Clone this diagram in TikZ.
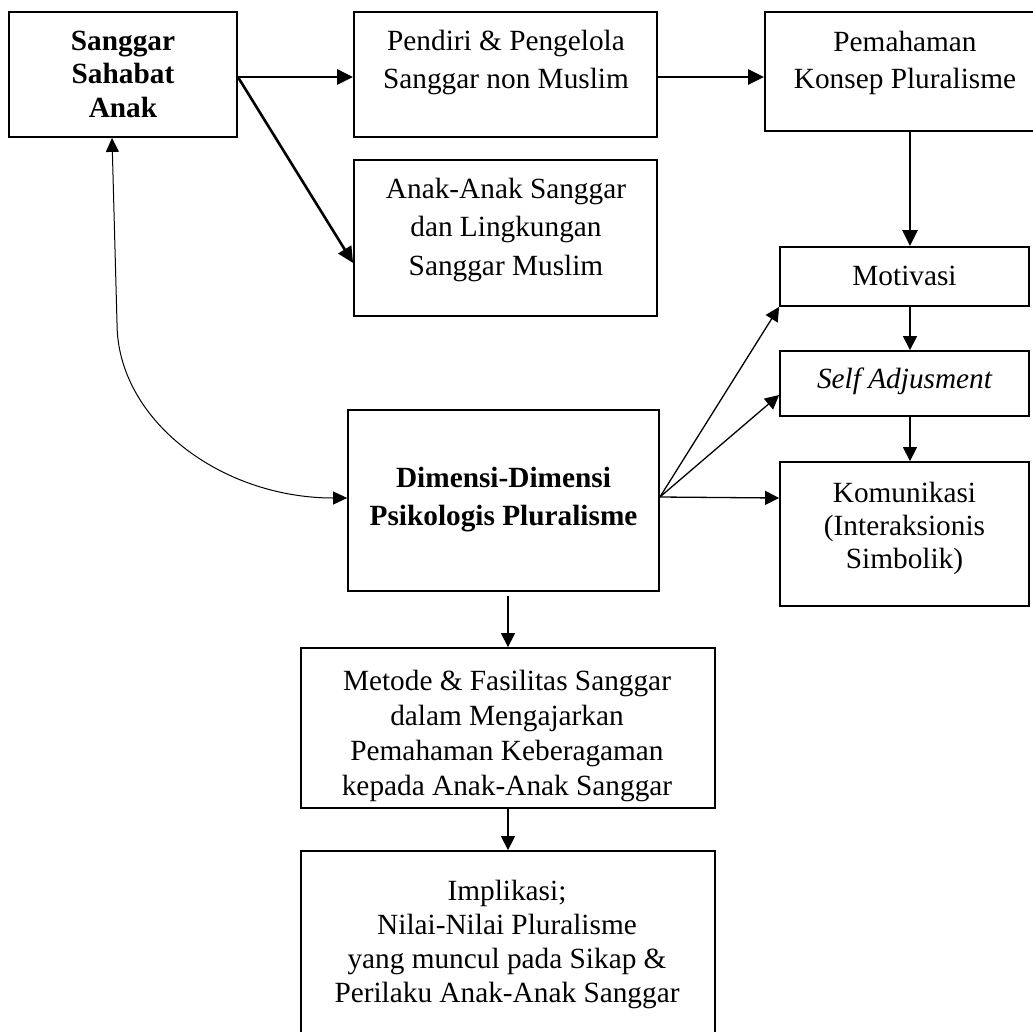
\documentclass[tikz,border=0pt]{standalone}
\usepackage{fontspec}
\setmainfont{Liberation Serif}
\usetikzlibrary{arrows.meta}
\newcommand{\txtlines}[2]{\fontsize{29.3}{#1}\selectfont\begin{tabular}[t]{@{}c@{}}#2\end{tabular}}
\begin{document}
\begin{tikzpicture}[x=1pt,y=-1pt,
  box/.style={draw, line width=1.8pt, inner sep=0pt, fill=none},
  txt/.style={inner sep=0pt, anchor=base},
  thickarr/.style={line width=2.6pt, -{Triangle[length=16pt,width=15pt]}},
  thinarr/.style={line width=1.3pt, -{Triangle[length=14pt,width=14pt]}},
  curvearr/.style={line width=1pt, {Triangle[length=14pt,width=13pt]}-{Triangle[length=14pt,width=13pt]}}]
\clip (0,0) rectangle (1033,1031);
\fill[white] (0,0) rectangle (1033,1031);
% boxes
\node[box, minimum width=228pt, minimum height=125pt] (b1) at (123,74.5) {};
\node[box, minimum width=303pt, minimum height=125pt] (pendiri) at (505.5,74.5) {};
\node[box, minimum width=303pt, minimum height=156pt] (anak) at (505.5,238) {};
\node[box, minimum width=271pt, minimum height=119pt] (pemahaman) at (900.5,71.5) {};
\node[box, minimum width=249pt, minimum height=59pt] (motivasi) at (904.5,276.5) {};
\node[box, minimum width=249pt, minimum height=65pt] (self) at (904.5,383.5) {};
\node[box, minimum width=249pt, minimum height=144pt] (komunikasi) at (904.5,534) {};
\node[box, minimum width=311pt, minimum height=181pt] (dimensi) at (503.5,500.5) {};
\node[box, minimum width=414pt, minimum height=160pt] (metode) at (508,728) {};
\node[box, minimum width=414pt, minimum height=189pt] (impl) at (508,945.5) {};
% texts
\node[txt] (t1) at (123,50) {\bfseries\txtlines{33.5}{Sanggar\\Sahabat\\Anak}};
\node[txt] (t2) at (506,50) {\txtlines{38}{Pendiri \& Pengelola\\Sanggar non Muslim}};
\node[txt] (t3) at (506,198) {\txtlines{38.5}{Anak-Anak Sanggar\\dan Lingkungan\\Sanggar Muslim}};
\node[txt] (t4) at (905,51) {\txtlines{37}{Pemahaman\\Konsep Pluralisme}};
\node[txt] (t5) at (904.5,285) {\txtlines{30}{Motivasi}};
\node[txt] (t6) at (904.5,388) {\itshape\txtlines{30}{Self Adjusment}};
\node[txt] (t7) at (904.5,502) {\txtlines{33}{Komunikasi\\(Interaksionis\\Simbolik)}};
\node[txt] (t8) at (503.5,487) {\bfseries\txtlines{38}{Dimensi-Dimensi\\Psikologis Pluralisme}};
\node[txt] (t9) at (507,690) {\txtlines{35}{Metode \& Fasilitas Sanggar\\dalam Mengajarkan\\Pemahaman Keberagaman\\kepada Anak-Anak Sanggar}};
\node[txt] (t10) at (507,900) {\txtlines{34.3}{Implikasi;\\Nilai-Nilai Pluralisme\\yang muncul pada Sikap \&\\Perilaku Anak-Anak Sanggar}};
% helper coordinates
\coordinate (d1) at (508,596);
\coordinate (bend) at (117,323);
% connectors
\draw[thickarr] ([yshift=-2.5pt]b1.east) -- ([yshift=-2.5pt]pendiri.west);
\draw[thickarr] ([yshift=-2.5pt]b1.east) -- (anak.west |- 0,263);
\draw[thickarr] ([yshift=-2.5pt]pendiri.east) -- (pemahaman.west |- 0,77);
\draw[thickarr] (pemahaman.south -| 910,0) -- (motivasi.north -| 910,0);
\draw[thinarr] (motivasi.south -| 910,0) -- (self.north -| 910,0);
\draw[thinarr] (self.south -| 910,0) -- (komunikasi.north -| 910,0);
\draw[thinarr] (dimensi.east |- 0,497) -- (motivasi.south west);
\draw[thinarr] (dimensi.east |- 0,497) -- (self.west |- 0,395);
\draw[thinarr] (dimensi.east |- 0,497) -- (komunikasi.west |- 0,498);
\draw[thinarr] (d1) -- (metode.north -| d1);
\draw[thinarr] (metode.south -| d1) -- (impl.north -| d1);
\draw[curvearr] (b1.south -| 112,0) -- (bend) .. controls (117,419.6) and (220.4,498) .. (dimensi.west |- 0,498);
\end{tikzpicture}
\end{document}
